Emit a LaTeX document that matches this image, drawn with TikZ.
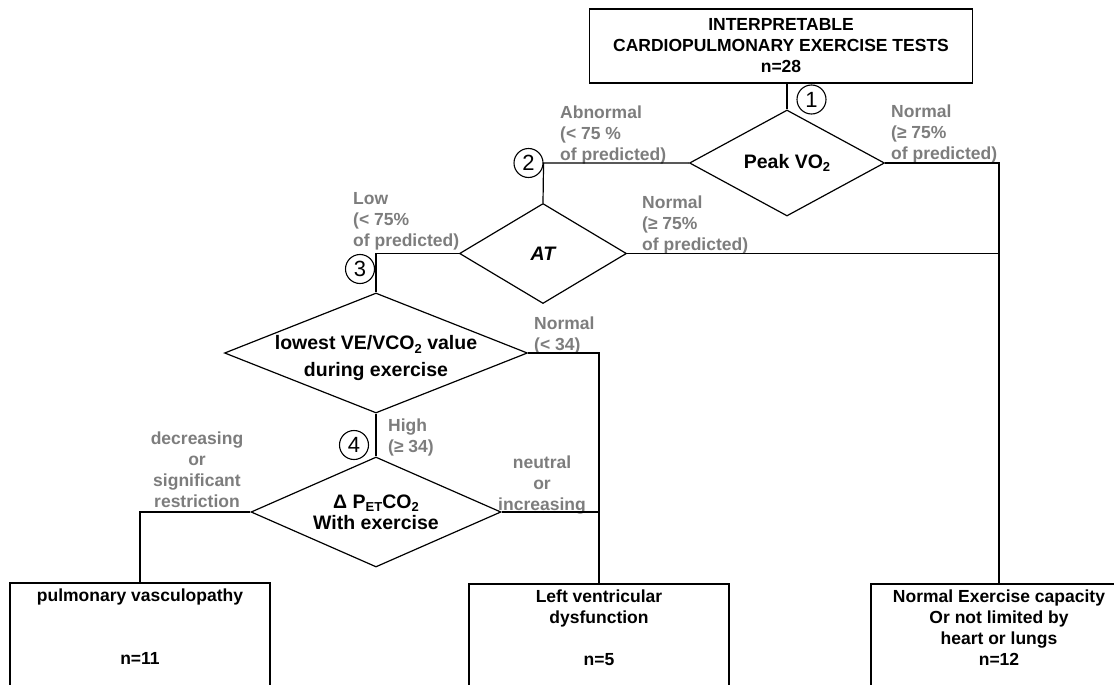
\documentclass[tikz,border=0pt]{standalone}
\usepackage{fontspec}
\setmainfont{Liberation Sans}
\usetikzlibrary{shapes.geometric,positioning}
\definecolor{labelgray}{RGB}{125,125,125}
\newcommand{\lowsub}[1]{\raisebox{-0.35ex}{\fontsize{13}{13}\selectfont #1}}

\begin{document}
\begin{tikzpicture}[x=1pt,y=-1pt,
  every node/.style={font=\fontsize{17.5}{21}\selectfont\bfseries},
  box/.style={draw, rectangle, line width=1.3pt, inner sep=0pt},
  decision/.style={draw, diamond, line width=1.2pt, inner sep=0pt, align=center, font=\fontsize{19.5}{21}\selectfont\bfseries},
  stepnum/.style={draw, circle, line width=1.1pt, minimum size=29pt, inner sep=0pt, font=\fontsize{22}{22}\selectfont},
  branch/.style={text=labelgray, align=left, inner sep=0pt, anchor=north west},
  boxtext/.style={align=center, inner sep=0pt},
  wire/.style={line width=1.2pt}]
\useasboundingbox (0,0) rectangle (1114,685);

% Tests
\node[box, minimum width=383pt, minimum height=74pt, align=center] (tests) at (781,46) {INTERPRETABLE\\CARDIOPULMONARY EXERCISE TESTS\\n=28};

% Step 1: peak VO2
\node[decision, minimum width=195pt, minimum height=106pt, aspect=1.84] (peak) at (787,163) {Peak VO\lowsub{2}};
\node[stepnum] (s1) at (811.5,99.5) {1};
\draw[wire] (tests.south -| peak.north) -- (peak.north);
\node[branch] (abn) at (560,105.5) {Abnormal\\(< 75 \%\\of predicted)};
\node[branch] (peaknorm) at (891,104.5) {Normal\\(≥ 75\%\\of predicted)};

% Step 2: AT
\node[stepnum] (s2) at (528.5,163) {2};
\node[decision, minimum width=167pt, minimum height=100pt, aspect=1.67] (at) at (543,253.5) {\itshape AT};
\draw[wire] (peak.west) -- (s2.east) -- (at.north);
\node[branch] (low) at (353,192.5) {Low\\(< 75\%\\of predicted)};
\node[branch] (atnorm) at (642,195.5) {Normal\\(≥ 75\%\\of predicted)};

% Step 3: VE/VCO2
\node[stepnum] (s3) at (360,269) {3};
\node[decision, minimum width=303pt, minimum height=120pt, aspect=2.52, inner sep=-7pt] (ve) at (376,353) {\rule{0pt}{24pt}lowest VE/VCO\lowsub{2} value\\[6pt]during exercise};
\draw[wire] (at.west) -- (at.west -| ve.north) -- (ve.north);
\node[branch] (venorm) at (534,316.5) {Normal\\(< 34)};

% Step 4: PETCO2
\node[stepnum] (s4) at (354,445) {4};
\node[decision, minimum width=250pt, minimum height=110pt, aspect=2.27] (petco) at (376,512) {Δ P\lowsub{ET}CO\lowsub{2}\\With exercise};
\draw[wire] (ve.south) -- (petco.north);
\node[branch] (high) at (388,418.5) {High\\(≥ 34)};
\node[branch, anchor=north, align=center] (neutral) at (542,455.5) {neutral\\or\\increasing};
\node[branch, anchor=north, align=center] (decr) at (197,431.5) {decreasing\\or\\significant\\restriction};

% Outcomes
\node[box, minimum width=260pt, minimum height=103pt] (pulm) at (140,634.5) {};
\node[boxtext, below=6pt of pulm.north] (pulmtext) {pulmonary vasculopathy\\[42pt]n=11};
\node[box, minimum width=260pt, minimum height=102pt] (lvd) at (599,635) {};
\node[boxtext, below=6pt of lvd.north] (lvdtext) {Left ventricular\\dysfunction\\[21pt]n=5};
\node[box, minimum width=256pt, minimum height=102pt] (norm) at (999,635) {};
\node[boxtext, below=6pt of norm.north] (normtext) {Normal Exercise capacity\\Or not limited by\\heart or lungs\\n=12};

% Connectors to outcomes
\draw[wire] (peak.east) -| (norm.north);
\draw[wire] (at.east) -- (at.east -| norm.north);
\draw[wire] (ve.east) -| (lvd.north);
\draw[wire] (petco.east) -- (petco.east -| lvd.north);
\draw[wire] (petco.west) -| (pulm.north);
\end{tikzpicture}
\end{document}
